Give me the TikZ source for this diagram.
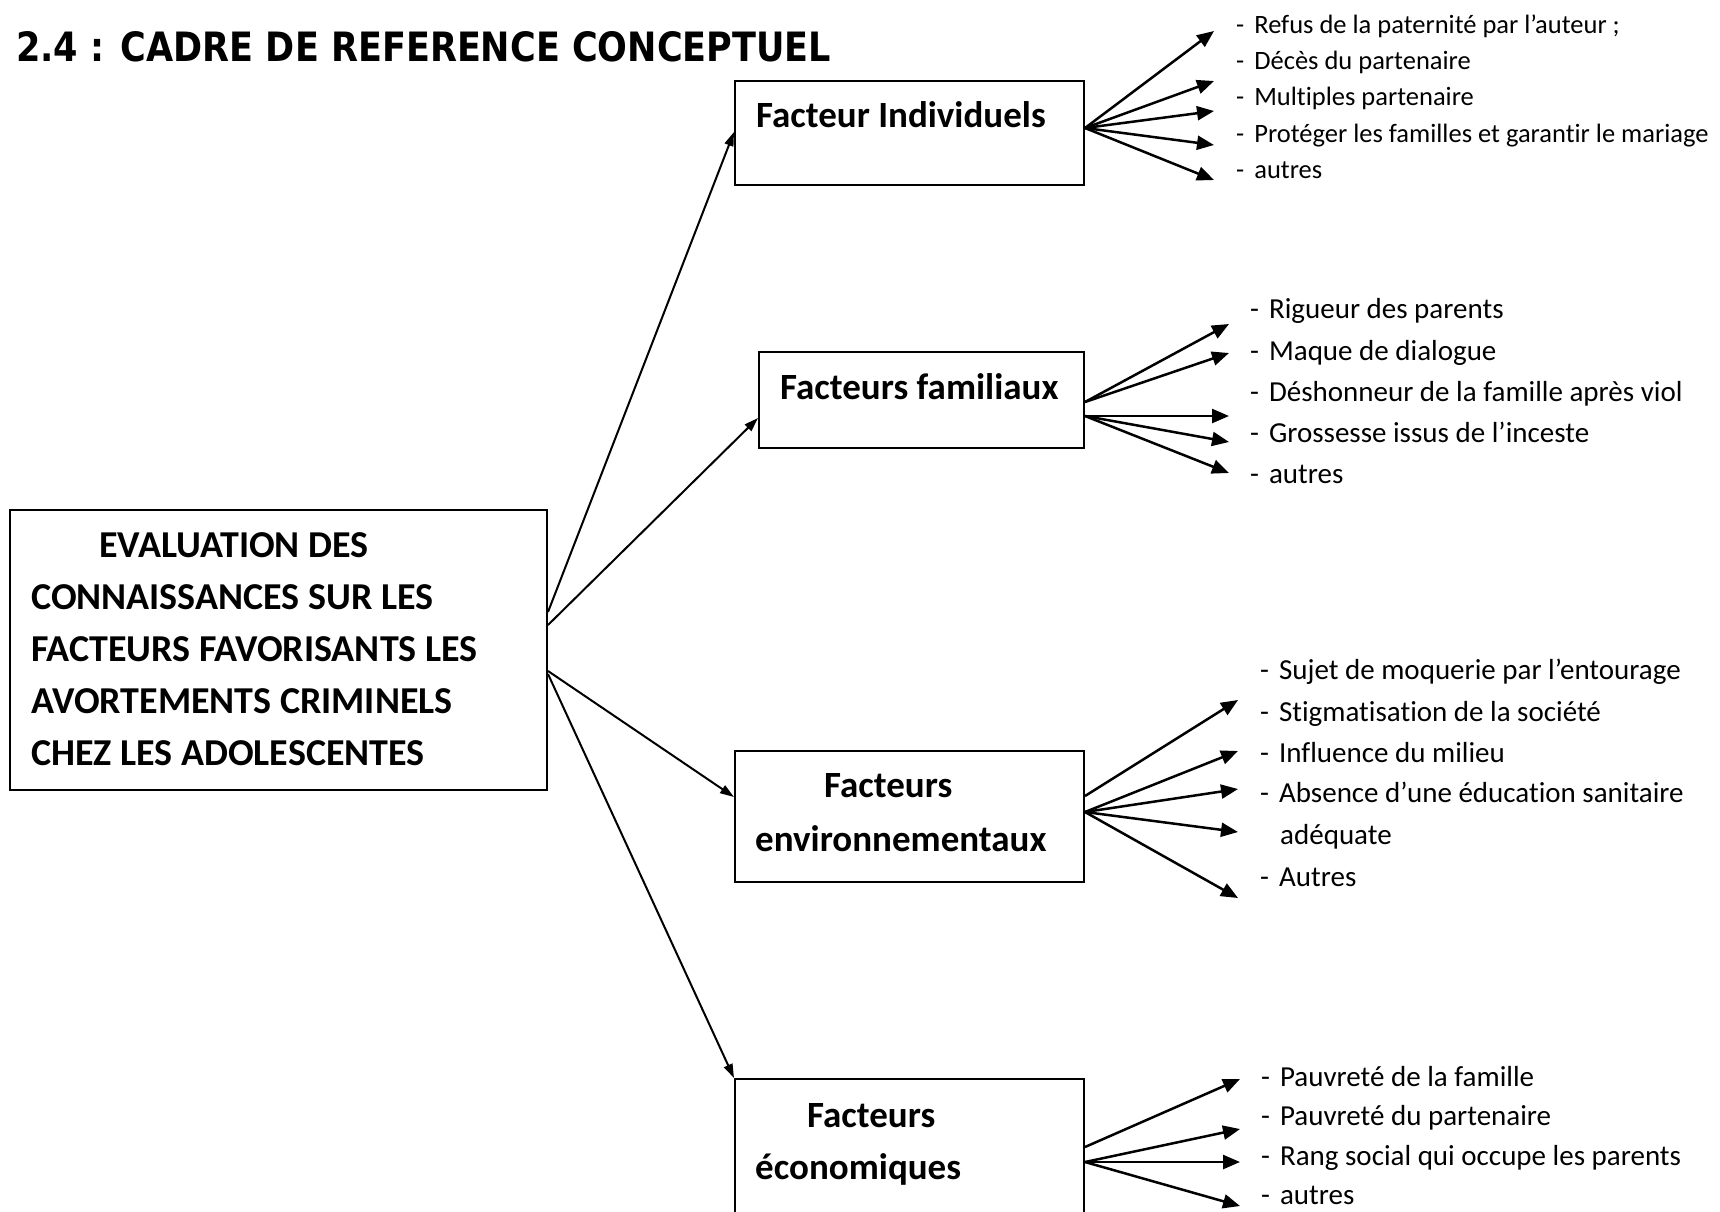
\documentclass[tikz,border=0pt]{standalone}
\usepackage{graphicx}
\usepackage{fontspec}
\setmainfont{Carlito}[Ligatures={NoCommon,NoRequired,NoContextual},Contextuals={NoAlternate}]
\newfontfamily\titlefont{DejaVu Sans}
\usetikzlibrary{arrows.meta}
\begin{document}
\begin{tikzpicture}[x=1pt,y=-1pt,
  box/.style={draw, line width=2pt, inner sep=0pt, anchor=north west},
  lbl/.style={inner sep=0pt, anchor=west, font=\fontsize{37}{44}\selectfont\bfseries, text height=24pt, text depth=0pt},
  mlbl/.style={lbl, font=\fontsize{38}{45}\selectfont\bfseries},
  item/.style={inner sep=0pt, anchor=west, font=\fontsize{29}{35}\selectfont, text height=19pt, text depth=0pt},
  itemA/.style={item, font=\fontsize{26.5}{32}\selectfont, text height=17pt},
  mainarr/.style={line width=2pt, -{Triangle[length=14pt,width=9pt]}},
  itemarr/.style={line width=2.5pt, -{Triangle[length=17pt,width=14pt]}},
]
\useasboundingbox (0,0) rectangle (1720,1211);
\clip (0,0) rectangle (1720,1211);

% title
\node[anchor=north west, inner sep=0pt] (title) at (16,31)
  {\resizebox{815pt}{30pt}{\titlefont\bfseries 2.4 : CADRE DE REFERENCE CONCEPTUEL}};

% boxes
\node[box, minimum width=537pt, minimum height=280pt] (main) at (9,509) {};
\node[box, minimum width=349pt, minimum height=104pt] (b1) at (734,80) {};
\node[box, minimum width=325pt, minimum height=96pt] (b2) at (758,351) {};
\node[box, minimum width=349pt, minimum height=131pt] (b3) at (734,750) {};
\node[box, minimum width=349pt, minimum height=150pt] (b4) at (734,1078) {};

% main text
\node[mlbl] (m1) at (99,545) {EVALUATION DES};
\node[mlbl] (m2) at (31,597) {CONNAISSANCES SUR LES};
\node[mlbl] (m3) at (31,649) {FACTEURS FAVORISANTS LES};
\node[mlbl] (m4) at (31,701) {AVORTEMENTS CRIMINELS};
\node[mlbl] (m5) at (31,753) {CHEZ LES ADOLESCENTES};

% box labels
\node[lbl] (l1) at (756,115) {Facteur Individuels};
\node[lbl] (l2) at (780,387) {Facteurs familiaux};
\node[lbl] (l3a) at (824,785) {Facteurs};
\node[lbl] (l3b) at (755,839) {environnementaux};
\node[lbl] (l4a) at (807,1115) {Facteurs};
\node[lbl] (l4b) at (755,1167) {économiques};

% main arrows
\draw[mainarr] (main.east |- 0,612) -- (b1.west |- 0,132);
\draw[mainarr] (main.east |- 0,625) -- (b2.west |- 0,418);
\draw[mainarr] (main.east |- 0,671) -- (b3.west |- 0,797);
\draw[mainarr] (main.east |- 0,674) -- (b4.north west);

% group 1
\coordinate (t11) at (1214,31);
\coordinate (t12) at (1214,81);
\coordinate (t13) at (1214,111);
\coordinate (t14) at (1214,145);
\coordinate (t15) at (1214,180);
\foreach \t in {t11,t12,t13,t14,t15}
  \draw[itemarr] (b1.east |- 0,128) -- (\t);
\node[itemA] (i11) at (1236,25) {-\hspace{10pt}Refus de la paternité par l’auteur ;};
\node[itemA] (i12) at (1236,61) {-\hspace{10pt}Décès du partenaire};
\node[itemA] (i13) at (1236,97) {-\hspace{10pt}Multiples partenaire};
\node[itemA] (i14) at (1236,134) {-\hspace{10pt}Protéger les familles et garantir le mariage};
\node[itemA] (i15) at (1236,170) {-\hspace{10pt}autres};

% group 2
\coordinate (t21) at (1229,324);
\coordinate (t22) at (1229,353);
\coordinate (t23) at (1229,416);
\coordinate (t24) at (1229,442);
\coordinate (t25) at (1229,473);
\foreach \t in {t21,t22}
  \draw[itemarr] (b2.east |- 0,402) -- (\t);
\foreach \t in {t23,t24,t25}
  \draw[itemarr] (b2.east |- 0,416) -- (\t);
\node[item] (i21) at (1250,309) {-\hspace{10pt}Rigueur des parents};
\node[item] (i22) at (1250,351) {-\hspace{10pt}Maque de dialogue};
\node[item] (i23) at (1250,392) {-\hspace{10pt}Déshonneur de la famille après viol};
\node[item] (i24) at (1250,433) {-\hspace{10pt}Grossesse issus de l’inceste};
\node[item] (i25) at (1250,474) {-\hspace{10pt}autres};

% group 3
\coordinate (t31) at (1238,700);
\coordinate (t32) at (1238,751);
\coordinate (t33) at (1238,789);
\coordinate (t34) at (1238,832);
\coordinate (t35) at (1238,898);
\draw[itemarr] (b3.east |- 0,796) -- (t31);
\foreach \t in {t32,t33,t34,t35}
  \draw[itemarr] (b3.east |- 0,812) -- (\t);
\node[item] (i31) at (1260,670) {-\hspace{10pt}Sujet de moquerie par l’entourage};
\node[item] (i32) at (1260,712) {-\hspace{10pt}Stigmatisation de la société};
\node[item] (i33) at (1260,753) {-\hspace{10pt}Influence du milieu};
\node[item] (i34) at (1260,793) {-\hspace{10pt}Absence d’une éducation sanitaire};
\node[item] (i34b) at (1280,835) {adéquate};
\node[item] (i35) at (1260,877) {-\hspace{10pt}Autres};

% group 4
\coordinate (t41) at (1240,1079);
\coordinate (t42) at (1240,1129);
\coordinate (t43) at (1240,1162);
\coordinate (t44) at (1240,1206);
\draw[itemarr] (b4.east |- 0,1147) -- (t41);
\foreach \t in {t42,t43,t44}
  \draw[itemarr] (b4.east |- 0,1162) -- (\t);
\node[item] (i41) at (1261,1077) {-\hspace{10pt}Pauvreté de la famille};
\node[item] (i42) at (1261,1116) {-\hspace{10pt}Pauvreté du partenaire};
\node[item] (i43) at (1261,1156) {-\hspace{10pt}Rang social qui occupe les parents};
\node[item] (i44) at (1261,1195) {-\hspace{10pt}autres};
\end{tikzpicture}
\end{document}
